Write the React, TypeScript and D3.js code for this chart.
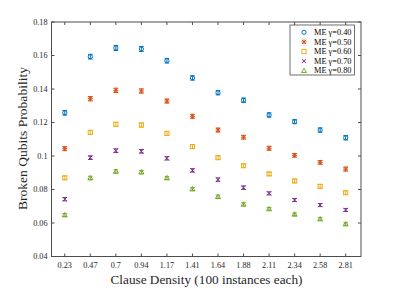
import React from "react";
import * as d3 from "d3";

const densities = ["0.23", "0.47", "0.7", "0.94", "1.17", "1.41", "1.64", "1.88", "2.11", "2.34", "2.58", "2.81"];
const yTicks = [0.04, 0.06, 0.08, 0.1, 0.12, 0.14, 0.16, 0.18];

const gamma40 = [0.1258, 0.1593, 0.1645, 0.1639, 0.1569, 0.1466, 0.1378, 0.1333, 0.1245, 0.1205, 0.1155, 0.1109];
const gamma50 = [0.1044, 0.1342, 0.1392, 0.1388, 0.1328, 0.1237, 0.1155, 0.1112, 0.1046, 0.1004, 0.0962, 0.0922];
const gamma60 = [0.0870, 0.1141, 0.1189, 0.1185, 0.1135, 0.1056, 0.0990, 0.0942, 0.0893, 0.0851, 0.0819, 0.0781];
const gamma70 = [0.0742, 0.0990, 0.1032, 0.1028, 0.0986, 0.0914, 0.0859, 0.0811, 0.0777, 0.0737, 0.0707, 0.0678];
const gamma80 = [0.0648, 0.0869, 0.0908, 0.0904, 0.0869, 0.0803, 0.0757, 0.0712, 0.0684, 0.0652, 0.0624, 0.0594];

const err40 = [0.0014, 0.0014, 0.0015, 0.0015, 0.0014, 0.0013, 0.0013, 0.0013, 0.0013, 0.0012, 0.0013, 0.0013];
const err50 = [0.0012, 0.0013, 0.0013, 0.0013, 0.0012, 0.0012, 0.0012, 0.0011, 0.0012, 0.0011, 0.0011, 0.0012];
const err60 = [0.0010, 0.0011, 0.0012, 0.0012, 0.0011, 0.0011, 0.0010, 0.0010, 0.0010, 0.0010, 0.0010, 0.0010];
const err70 = [0.0010, 0.0011, 0.0011, 0.0011, 0.0010, 0.0010, 0.0010, 0.0010, 0.0009, 0.0009, 0.0009, 0.0009];
const err80 = [0.0009, 0.0010, 0.0010, 0.0010, 0.0009, 0.0009, 0.0009, 0.0009, 0.0008, 0.0008, 0.0008, 0.0008];

const labels = ["ME \u03b3=0.40", "ME \u03b3=0.50", "ME \u03b3=0.60", "ME \u03b3=0.70", "ME \u03b3=0.80"];
const colors = ["#0072BD", "#D95319", "#EDB120", "#7E2F8E", "#77AC30"];
const markers = ["circle", "star", "square", "cross", "triangle"];

const series = [
  { values: gamma40, errs: err40 },
  { values: gamma50, errs: err50 },
  { values: gamma60, errs: err60 },
  { values: gamma70, errs: err70 },
  { values: gamma80, errs: err80 },
];

const FONT = "'Liberation Serif', 'Times New Roman', serif";
const AXIS = "#4d4d4d";

const Marker = ({ type, x, y, color }) => {
  const r = 2.1;
  if (type === "circle")
    return <circle cx={x} cy={y} r={r} fill="none" stroke={color} strokeWidth={1} />;
  if (type === "square")
    return <rect x={x - r} y={y - r} width={2 * r} height={2 * r} fill="none" stroke={color} strokeWidth={1} />;
  if (type === "cross")
    return (
      <path d={`M${x - r},${y - r}L${x + r},${y + r}M${x - r},${y + r}L${x + r},${y - r}`} stroke={color} strokeWidth={1} />
    );
  if (type === "triangle")
    return (
      <path d={`M${x},${y - 2.5}L${x + 2.5},${y + 1.9}L${x - 2.5},${y + 1.9}Z`} fill="none" stroke={color} strokeWidth={1} />
    );
  return (
    <path
      d={`M${x - r},${y - r}L${x + r},${y + r}M${x - r},${y + r}L${x + r},${y - r}M${x},${y - 2.5}L${x},${y + 2.5}M${x - 2.5},${y}L${x + 2.5},${y}`}
      stroke={color}
      strokeWidth={1}
    />
  );
};

const App = () => {
  const margin = { top: 22, right: 38, bottom: 31.5, left: 51.5 };
  const width = 399;
  const height = 288;
  const x0 = margin.left;
  const x1 = width - margin.right;
  const y0 = margin.top;
  const y1 = height - margin.bottom;

  const x = d3.scaleLinear().domain([0.48, 12.6]).range([x0, x1]);
  const y = d3.scaleLinear().domain([0.04, 0.18]).range([y1, y0]);
  const fmt = (v) => d3.format(".2f")(v).replace(/0$/, "");

  return (
    <svg width={width} height={height} style={{ position: "absolute", left: 0, top: 0 }}>
      <rect x={0} y={0} width={width} height={height} fill="#fff" />
      <rect x={x0} y={y0} width={x1 - x0} height={y1 - y0} fill="none" stroke={AXIS} strokeWidth={1} />
      {densities.map((d, i) => (
        <g key={d}>
          <line x1={x(i + 1)} x2={x(i + 1)} y1={y1} y2={y1 - 3} stroke={AXIS} />
          <line x1={x(i + 1)} x2={x(i + 1)} y1={y0} y2={y0 + 3} stroke={AXIS} />
          <text x={x(i + 1)} y={268} textAnchor="middle" fontFamily={FONT} fontSize={8.2} fill="#262626">
            {d}
          </text>
        </g>
      ))}
      {yTicks.map((t) => (
        <g key={t}>
          <line x1={x0} x2={x0 + 3} y1={y(t)} y2={y(t)} stroke={AXIS} />
          <line x1={x1} x2={x1 - 3} y1={y(t)} y2={y(t)} stroke={AXIS} />
          <text x={x0 - 4} y={y(t) + 2.8} textAnchor="end" fontFamily={FONT} fontSize={8.2} fill="#262626">
            {fmt(t)}
          </text>
        </g>
      ))}
      <text
        x={206.5}
        y={283.5}
        textAnchor="middle"
        fontFamily={FONT}
        fontSize={12}
        fill="#262626"
        textLength={192}
        lengthAdjust="spacingAndGlyphs"
      >
        Clause Density (100 instances each)
      </text>
      <text
        transform={`translate(26.5,138.5) rotate(-90)`}
        textAnchor="middle"
        fontFamily={FONT}
        fontSize={12}
        fill="#262626"
        textLength={143}
        lengthAdjust="spacingAndGlyphs"
      >
        Broken Qubits Probability
      </text>
      {series.map((s, k) => (
        <g key={k}>
          {s.values.map((v, i) => {
            const cx = x(i + 1);
            const ya = y(v + s.errs[i]);
            const yb = y(v - s.errs[i]);
            return (
              <g key={i}>
                <path
                  d={`M${cx},${ya}L${cx},${yb}M${cx - 2.3},${ya}L${cx + 2.3},${ya}M${cx - 2.3},${yb}L${cx + 2.3},${yb}`}
                  stroke={colors[k]}
                  strokeWidth={1}
                  fill="none"
                />
                <Marker type={markers[k]} x={cx} y={y(v)} color={colors[k]} />
              </g>
            );
          })}
        </g>
      ))}
      <g>
        <rect x={290} y={25} width={64.5} height={50} fill="#fff" stroke={AXIS} strokeWidth={0.8} />
        {labels.map((l, k) => {
          const ly = 32.3 + k * 9.6;
          return (
            <g key={l}>
              <Marker type={markers[k]} x={304} y={ly} color={colors[k]} />
              <text
                x={314}
                y={ly + 2.6}
                fontFamily={FONT}
                fontSize={7.8}
                fill="#000"
                textLength={37.5}
                lengthAdjust="spacingAndGlyphs"
              >
                {l}
              </text>
            </g>
          );
        })}
      </g>
    </svg>
  );
};

export default App;
